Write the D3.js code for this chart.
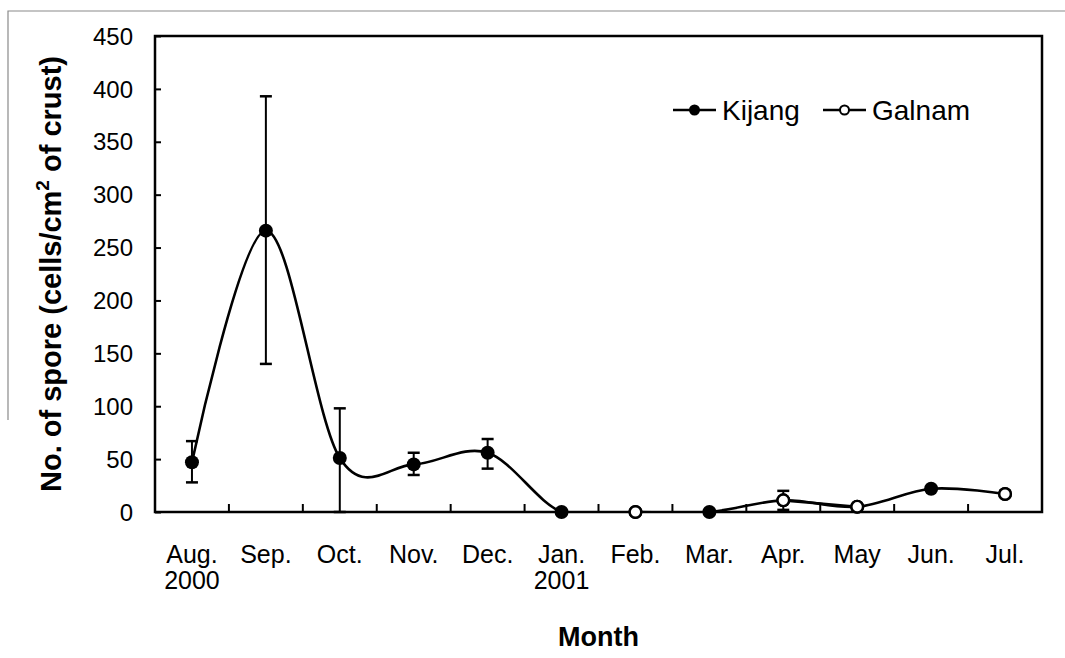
<!DOCTYPE html>
<html>
<head>
<meta charset="utf-8">
<script src="https://cdn.jsdelivr.net/npm/d3@7"></script>
<style>
  html, body { margin: 0; padding: 0; background: #fff; }
  svg { display: block; font-family: "Liberation Sans", Arial, Helvetica, sans-serif; }
</style>
</head>
<body>
<svg id="chart" width="1065" height="658"></svg>
<script>
// Monthly spore counts at two sites, Aug 2000 – Jul 2001
const months = ["Aug.", "Sep.", "Oct.", "Nov.", "Dec.", "Jan.", "Feb.", "Mar.", "Apr.", "May", "Jun.", "Jul."];
const years  = ["2000", "", "", "", "", "2001", "", "", "", "", "", ""];

const kijang      = [47, 266, 51, 45, 56, 0, 0, 0, 11, 5, 22, 17];
const kijangLow   = [28, 140, 0, 35, 41, null, null, null, null, null, null, null];
const kijangHigh  = [67, 393, 98, 56, 69, null, null, null, null, null, null, null];

const galnam      = [null, null, null, null, null, null, 0, null, 11, 5, null, 17];
const galnamLow   = [null, null, null, null, null, null, null, null, 2, null, null, 15];
const galnamHigh  = [null, null, null, null, null, null, null, null, 20, null, null, 20];

const yTicks = [0, 50, 100, 150, 200, 250, 300, 350, 400, 450];
const seriesNames = ["Kijang", "Galnam"];

const svg = d3.select("#chart");
const plot = { left: 155, right: 1042, top: 36, bottom: 512 };

const x = d3.scaleBand().domain(months).range([plot.left, plot.right]).padding(0);
const y = d3.scaleLinear().domain([0, 450]).range([plot.bottom, plot.top]);
const cx = m => x(m) + x.bandwidth() / 2;

// faint page frame
svg.append("path")
  .attr("d", `M8,420 L8,11 L1065,11`)
  .attr("fill", "none").attr("stroke", "#8a8a8a").attr("stroke-width", 1.2);

// clip for the smoothed curve
svg.append("defs").append("clipPath").attr("id", "plotClip")
  .append("rect")
  .attr("x", plot.left).attr("y", plot.top)
  .attr("width", plot.right - plot.left).attr("height", plot.bottom - plot.top);

// y axis ticks (inward) and labels
const yAxis = d3.axisRight(y).tickValues(yTicks).tickSize(6).tickFormat("");
svg.append("g").attr("transform", `translate(${plot.left},0)`).call(yAxis)
  .call(g => g.select(".domain").remove())
  .call(g => g.selectAll("line").attr("stroke", "#000").attr("stroke-width", 2));

svg.append("g").selectAll("text").data(yTicks).join("text")
  .attr("x", 133).attr("y", d => y(d)).attr("dy", "0.36em")
  .attr("text-anchor", "end").attr("font-size", 24).attr("fill", "#000")
  .text(d => d);

// x axis ticks at month boundaries (inward)
const boundaries = months.slice(1).map(m => x(m));
svg.append("g").selectAll("line").data(boundaries).join("line")
  .attr("x1", d => d).attr("x2", d => d)
  .attr("y1", plot.bottom).attr("y2", plot.bottom - 8)
  .attr("stroke", "#000").attr("stroke-width", 2);

// month and year labels
svg.append("g").selectAll("text").data(months).join("text")
  .attr("x", d => cx(d)).attr("y", 563)
  .attr("text-anchor", "middle").attr("font-size", 25).attr("fill", "#000")
  .text(d => d);
svg.append("g").selectAll("text").data(months.filter((m, i) => years[i])).join("text")
  .attr("x", d => cx(d)).attr("y", 589)
  .attr("text-anchor", "middle").attr("font-size", 25).attr("fill", "#000")
  .text(d => years[months.indexOf(d)]);

// axis titles
svg.append("text")
  .attr("x", (plot.left + plot.right) / 2).attr("y", 646)
  .attr("text-anchor", "middle").attr("font-size", 27).attr("font-weight", "bold")
  .text("Month");

const yTitle = svg.append("text")
  .attr("transform", `translate(61,${(plot.top + plot.bottom) / 2}) rotate(-90)`)
  .attr("text-anchor", "middle").attr("font-size", 29).attr("font-weight", "bold");
yTitle.append("tspan").text("No. of spore (cells/cm");
yTitle.append("tspan").attr("font-size", 19).attr("dy", -12).text("2");
yTitle.append("tspan").attr("dy", 12).text(" of crust)");

// plot frame
svg.append("rect")
  .attr("x", plot.left).attr("y", plot.top)
  .attr("width", plot.right - plot.left).attr("height", plot.bottom - plot.top)
  .attr("fill", "none").attr("stroke", "#000").attr("stroke-width", 2.5);

const curve = d3.curveCardinal.tension(0);
const lineGen = d3.line()
  .defined(d => d.v != null)
  .x(d => cx(d.m)).y(d => y(d.v)).curve(curve);

const kData = months.map((m, i) => ({ m, v: kijang[i], lo: kijangLow[i], hi: kijangHigh[i] }));
const gData = months.map((m, i) => ({ m, v: galnam[i], lo: galnamLow[i], hi: galnamHigh[i] }));

// error bars
function errorBars(data) {
  const g = svg.append("g").attr("stroke", "#000").attr("stroke-width", 2);
  const e = data.filter(d => d.hi != null);
  g.selectAll(".v").data(e).join("line")
    .attr("x1", d => cx(d.m)).attr("x2", d => cx(d.m))
    .attr("y1", d => y(d.lo)).attr("y2", d => y(d.hi));
  ["lo", "hi"].forEach(k => {
    g.selectAll(".c" + k).data(e).join("line")
      .attr("x1", d => cx(d.m) - 6).attr("x2", d => cx(d.m) + 6)
      .attr("y1", d => y(d[k])).attr("y2", d => y(d[k]))
      .attr("stroke-width", 2.5);
  });
}
errorBars(kData);
errorBars(gData);

// series lines
svg.append("path").datum(kData)
  .attr("clip-path", "url(#plotClip)")
  .attr("d", lineGen).attr("fill", "none").attr("stroke", "#000").attr("stroke-width", 2.6);
svg.append("path").datum(gData)
  .attr("clip-path", "url(#plotClip)")
  .attr("d", lineGen).attr("fill", "none").attr("stroke", "#000").attr("stroke-width", 2.6);

// markers
svg.append("g").selectAll("circle").data(kData.filter(d => d.v != null)).join("circle")
  .attr("cx", d => cx(d.m)).attr("cy", d => y(d.v)).attr("r", 7).attr("fill", "#000");
svg.append("g").selectAll("circle").data(gData.filter(d => d.v != null)).join("circle")
  .attr("cx", d => cx(d.m)).attr("cy", d => y(d.v)).attr("r", 5.8)
  .attr("fill", "#fff").attr("stroke", "#000").attr("stroke-width", 2.4);

// legend
const legendY = 110;
const legend = svg.append("g");
const items = [
  { name: seriesNames[0], x0: 673, filled: true },
  { name: seriesNames[1], x0: 823, filled: false }
];
items.forEach(it => {
  legend.append("line")
    .attr("x1", it.x0).attr("x2", it.x0 + 43).attr("y1", legendY).attr("y2", legendY)
    .attr("stroke", "#000").attr("stroke-width", 2.4);
  legend.append("circle")
    .attr("cx", it.x0 + 21.5).attr("cy", legendY).attr("r", it.filled ? 5.5 : 4.5)
    .attr("fill", it.filled ? "#000" : "#fff").attr("stroke", "#000").attr("stroke-width", it.filled ? 0 : 2);
  legend.append("text")
    .attr("x", it.x0 + 49).attr("y", legendY).attr("dy", "0.36em")
    .attr("font-size", 28).attr("fill", "#000")
    .text(it.name);
});
</script>
</body>
</html>
